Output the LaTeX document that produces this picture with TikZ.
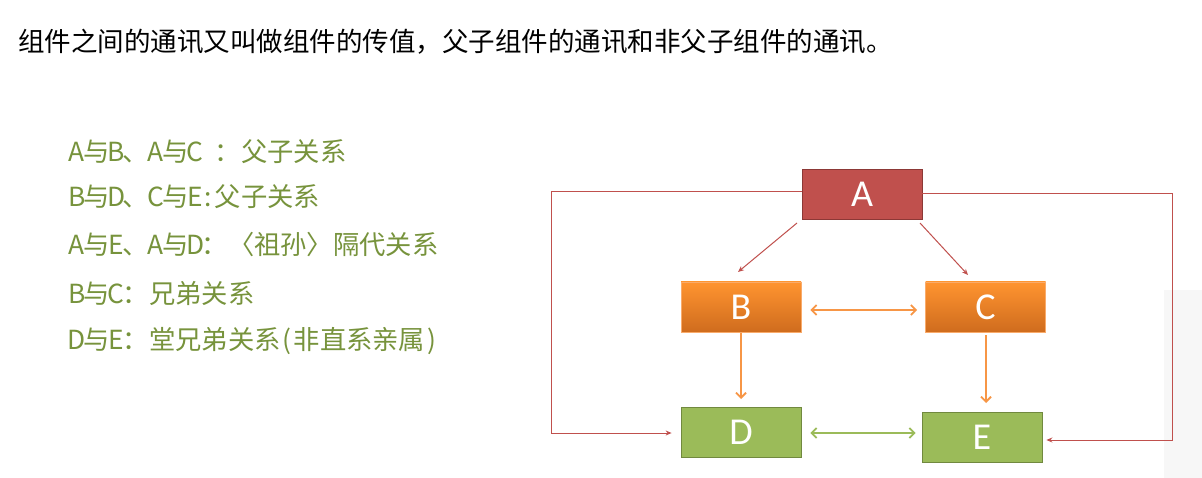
\documentclass[tikz,border=0pt]{standalone}
\usepackage{fontspec}
\setmainfont{Carlito}
\newfontfamily\cjk{Noto Sans CJK SC}
\usetikzlibrary{arrows.meta}
\definecolor{redA}{HTML}{C0504D}
\definecolor{redAline}{HTML}{8C3836}
\definecolor{orTop}{HTML}{FF9430}
\definecolor{orBot}{HTML}{CF6C1E}
\definecolor{orLine}{HTML}{F79646}
\definecolor{grn}{HTML}{9BBB59}
\definecolor{grnLine}{HTML}{71893F}
\definecolor{olive}{HTML}{77933C}
% half-width slot for Latin letters in the list
\newcommand\hw[1]{\makebox[0.5em]{#1}}
\tikzset{
  box/.style={minimum width=120pt, minimum height=50pt, inner sep=0pt,
    text=white, font=\fontsize{38}{38}\selectfont},
  rbox/.style={box, fill=redA, draw=redAline, line width=0.8pt},
  obox/.style={box, top color=orTop, bottom color=orBot, draw=orLine!80, line width=0.6pt},
  gbox/.style={box, fill=grn, draw=grnLine, line width=0.8pt},
  redarr/.style={draw=redA, line width=1pt, -{Stealth[length=6pt,width=5pt]}},
  orarr/.style={draw=orLine, line width=1.8pt, -{Straight Barb[length=5pt,width=10pt]}},
  ordbl/.style={draw=orLine, line width=1.8pt, {Straight Barb[length=5pt,width=10pt]}-{Straight Barb[length=5pt,width=10pt]}},
  grdbl/.style={draw=grn, line width=1.8pt, {Straight Barb[length=5pt,width=10pt]}-{Straight Barb[length=5pt,width=10pt]}},
  listline/.style={anchor=west, inner sep=0pt, text=olive, font=\cjk\fontsize{26.3}{26}\selectfont},
}
\begin{document}
\begin{tikzpicture}[x=1pt, y=-1pt]
  \useasboundingbox (0,0) rectangle (1202,478);
  \fill[white] (0,0) rectangle (1202,478);
  \fill[black!3] (1164,290) rectangle (1202,478);

  % heading
  \node[anchor=west, inner sep=0pt, font=\cjk\fontsize{26.5}{26}\selectfont] (title) at (18,42)
    {组件之间的通讯又叫做组件的传值，父子组件的通讯和非父子组件的通讯。};

  % relation list
  \node[listline] (l1) at (70,152) {\hw{A}与\hw{B}、\hw{A}与\hw{C}\hw{ }：父子关系};
  \node[listline] (l2) at (70,197) {\hw{B}与\hw{D}、\hw{C}与\hw{E}\hw{:}父子关系};
  \node[listline] (l3) at (70,245) {\hw{A}与\hw{E}、\hw{A}与\hw{D}：〈祖孙〉隔代关系};
  \node[listline] (l4) at (70,293) {\hw{B}与\hw{C}：兄弟关系};
  \node[listline] (l5) at (70,341) {\hw{D}与\hw{E}：堂兄弟关系\hw{(}非直系亲属\hw{)}};

  % component tree
  \node[rbox] (A) at (862,194) {A};
  \node[obox] (B) at (741,307) {B};
  \node[obox] (C) at (985.5,307) {C};
  \node[gbox] (D) at (741,432) {D};
  \node[gbox] (E) at (982,437) {E};

  \coordinate (lt) at (551,192);
  \coordinate (lb) at (551,433);
  \coordinate (rt) at (1172,194);
  \coordinate (rb) at (1172,440);

  \draw[redarr] (797,223) -- (738,272);
  \draw[redarr] (920,223) -- (968,275);
  \draw[redarr] (A.west |- lt) -- (lt) -- (lb) -- ([xshift=-9pt]D.west |- lb);
  \draw[redarr] (A.east |- rt) -- (rt) -- (rb) -- ([xshift=4pt]E.east |- rb);

  \draw[ordbl] ([xshift=9pt]B.east |- 0,310) -- ([xshift=-8pt]C.west |- 0,310);
  \draw[orarr] (B.south) ++(0,1) -- (741,399);
  \draw[orarr] (986,335) -- (986,403);
  \draw[grdbl] ([xshift=9pt]D.east |- 0,433) -- ([xshift=-6pt]E.west |- 0,433);
\end{tikzpicture}
\end{document}
